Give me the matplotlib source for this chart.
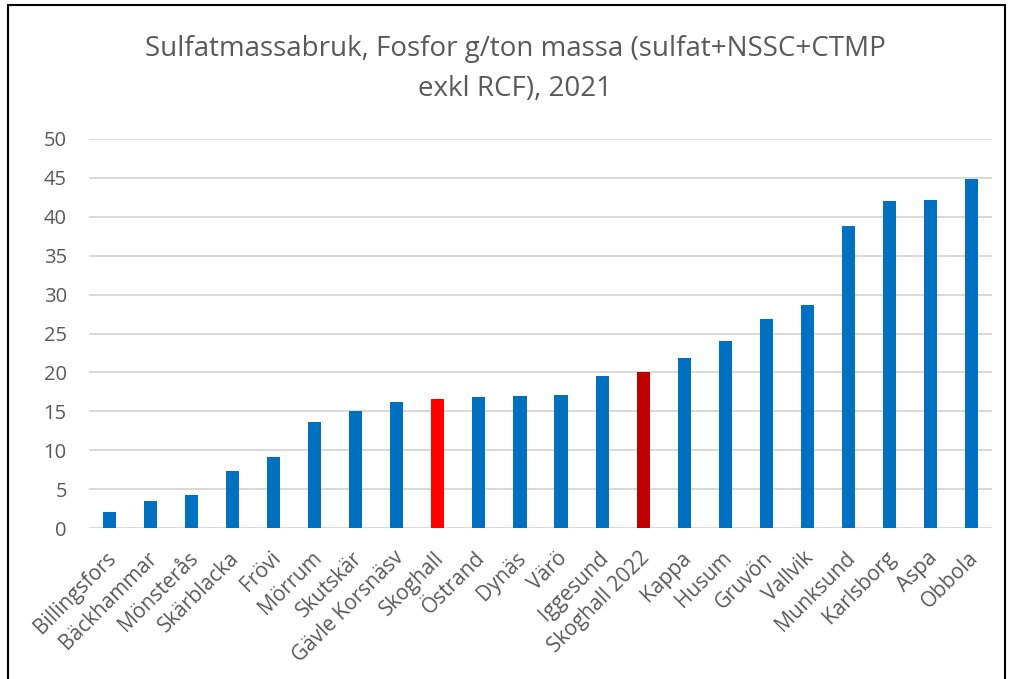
import matplotlib.pyplot as plt
from matplotlib.patches import Rectangle

# data
mills = ['Billingsfors', 'Bäckhammar', 'Mönsterås', 'Skärblacka', 'Frövi', 'Mörrum',
         'Skutskär', 'Gävle Korsnäsv', 'Skoghall', 'Östrand', 'Dynäs', 'Värö',
         'Iggesund', 'Skoghall 2022', 'Kappa', 'Husum', 'Gruvön', 'Vallvik',
         'Munksund', 'Karlsborg', 'Aspa', 'Obbola']
fosfor = [2.0, 3.5, 4.2, 7.3, 9.1, 13.6, 15.0, 16.2, 16.6, 16.9, 17.0, 17.1,
          19.5, 20.0, 21.8, 24.0, 26.8, 28.7, 38.8, 42.0, 42.2, 44.9]
highlight = {'Skoghall': '#FF0000', 'Skoghall 2022': '#C00000'}
yticks = [0, 5, 10, 15, 20, 25, 30, 35, 40, 45, 50]

plt.rcParams['font.family'] = ['Open Sans', 'DejaVu Sans']
grey = '#595959'

fig = plt.figure(figsize=(10.09, 6.79), dpi=100)
ax = fig.add_axes([89 / 1009, 1 - 528 / 679, (992 - 89) / 1009, (528 - 139) / 679])

colors = [highlight.get(m, '#0070C0') for m in mills]
ax.bar(range(len(mills)), fosfor, width=0.32, color=colors, zorder=3)

ax.set_xlim(-0.5, len(mills) - 0.5)
ax.set_ylim(0, 50)
ax.set_yticks(yticks)
ax.set_yticklabels([str(t) for t in yticks], fontsize=14.5, color=grey)
ax.set_xticks(range(len(mills)))
ax.set_xticklabels(mills, rotation=45, ha='right', rotation_mode='anchor',
                   fontsize=15, color=grey)
ax.tick_params(length=0)
ax.tick_params(axis='x', pad=14)
ax.tick_params(axis='y', pad=16)
ax.grid(axis='y', color='#D9D9D9', linewidth=1.4, zorder=0)
for s in ax.spines.values():
    s.set_visible(False)

# shift tick labels slightly left so their ends sit just right of the bar
import matplotlib.transforms as mtrans
offset = mtrans.ScaledTranslation(-4 / 100, 0, fig.dpi_scale_trans)
for lbl in ax.get_xticklabels():
    lbl.set_transform(lbl.get_transform() + offset)

fig.text(515 / 1009, 1 - 49 / 679, 'Sulfatmassabruk, Fosfor g/ton massa (sulfat+NSSC+CTMP',
         ha='center', va='center', fontsize=20, color=grey)
fig.text(515 / 1009, 1 - 89 / 679, 'exkl RCF), 2021',
         ha='center', va='center', fontsize=20, color=grey)

fig.patches.append(Rectangle((8 / 1009, -0.05), (1005 - 8) / 1009, 1 - 5 / 679 + 0.05,
                             transform=fig.transFigure, fill=False,
                             edgecolor='black', linewidth=1.5))

fig.savefig('out.png', dpi=100)
